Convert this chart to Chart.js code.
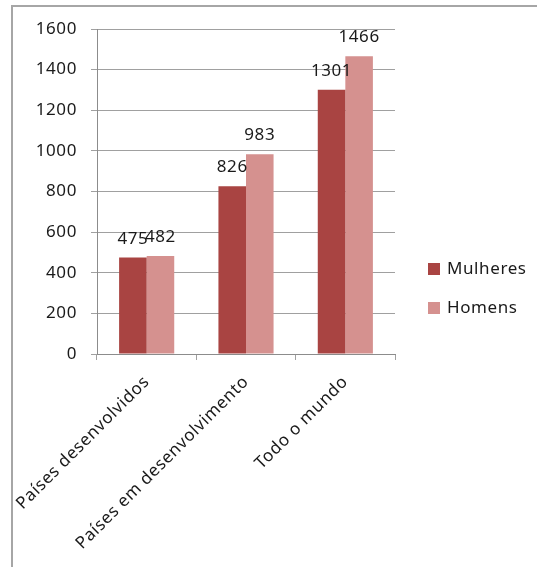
<!DOCTYPE html>
<html>
<head>
<meta charset="utf-8">
<script src="https://cdn.jsdelivr.net/npm/chart.js@4.4.1/dist/chart.umd.min.js"></script>
<style>
  html, body { margin: 0; padding: 0; background: #fff; }
  #wrap { position: relative; width: 537px; height: 567px; }
  #frame { position: absolute; left: 11px; top: 5px; right: -10px; bottom: -10px;
           border-left: 2px solid #a6a6a6; border-top: 2px solid #a6a6a6; pointer-events: none; }
  canvas { position: absolute; left: 0; top: 0; }
</style>
</head>
<body>
<div id="wrap">
  <canvas id="c" width="537" height="567"></canvas>
  <div id="frame"></div>
</div>
<script>
const categories = ["Países desenvolvidos", "Países em desenvolvimento", "Todo o mundo"];
const seriesNames = ["Mulheres", "Homens"];
const mulheres = [475, 826, 1301];
const homens = [482, 983, 1466];
const yTicks = [0, 200, 400, 600, 800, 1000, 1200, 1400, 1600];

const colors = ["#A94442", "#D5918F"];
const FONT = "'Noto Sans', 'Open Sans', sans-serif";
const FS = 17;

const spacing = {
  id: "spacing",
  beforeInit(chart) { chart.ctx.letterSpacing = "0.6px"; },
  beforeUpdate(chart) { chart.ctx.letterSpacing = "0.6px"; },
  beforeDraw(chart) { chart.ctx.letterSpacing = "0.6px"; }
};

const valueLabels = {
  id: "valueLabels",
  afterDatasetsDraw(chart) {
    const ctx = chart.ctx;
    ctx.save();
    ctx.font = FS + "px " + FONT;
    ctx.fillStyle = "#1a1a1a";
    ctx.textAlign = "center";
    ctx.textBaseline = "alphabetic";
    chart.data.datasets.forEach((ds, i) => {
      const meta = chart.getDatasetMeta(i);
      meta.data.forEach((bar, j) => {
        ctx.fillText(String(ds.data[j]), bar.x, bar.y - 14);
      });
    });
    ctx.restore();
  }
};

const sideLegend = {
  id: "sideLegend",
  afterDraw(chart) {
    const ctx = chart.ctx;
    ctx.save();
    ctx.font = FS + "px " + FONT;
    ctx.textBaseline = "middle";
    ctx.textAlign = "left";
    const x0 = chart.chartArea.right + 33;
    const y0 = 269;
    chart.data.datasets.forEach((ds, i) => {
      const y = y0 + i * 39;
      ctx.fillStyle = ds.backgroundColor;
      ctx.fillRect(x0, y - 6, 12, 12);
      ctx.fillStyle = "#1a1a1a";
      ctx.fillText(ds.label, x0 + 19, y);
    });
    ctx.restore();
  }
};

new Chart(document.getElementById("c"), {
  type: "bar",
  data: {
    labels: categories,
    datasets: [
      { label: seriesNames[0], data: mulheres, backgroundColor: colors[0] },
      { label: seriesNames[1], data: homens, backgroundColor: colors[1] }
    ]
  },
  options: {
    responsive: false,
    animation: false,
    devicePixelRatio: 1,
    layout: { padding: { top: 29, right: 142, bottom: 0, left: 0 } },
    datasets: { bar: { categoryPercentage: 0.555, barPercentage: 1.0 } },
    plugins: { legend: { display: false }, tooltip: { enabled: false } },
    scales: {
      x: {
        afterFit: (s) => { s.height = 213; s.paddingLeft = 0; s.paddingRight = 0; },
        grid: { offset: true, drawOnChartArea: false, drawTicks: true, tickLength: 6, color: "#a0a0a0" },
        border: { color: "#8c8c8c", width: 1 },
        ticks: { minRotation: 45, maxRotation: 45, autoSkip: false, padding: 12,
                 color: "#1a1a1a", font: { family: FONT, size: FS } }
      },
      y: {
        min: 0, max: 1600,
        afterFit: (s) => { s.width = 97; },
        afterBuildTicks: (s) => { s.ticks = yTicks.map(v => ({ value: v })); },
        grid: { color: "#a0a0a0", tickLength: 6 },
        border: { color: "#8c8c8c", width: 1 },
        ticks: { padding: 14, color: "#1a1a1a", font: { family: FONT, size: FS },
                 callback: (v) => String(v) }
      }
    }
  },
  plugins: [spacing, valueLabels, sideLegend]
});
</script>
</body>
</html>
